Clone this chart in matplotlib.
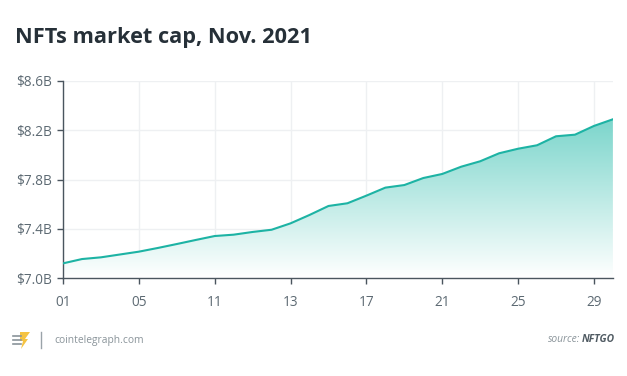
import matplotlib.pyplot as plt
import numpy as np
from matplotlib.patches import Polygon
from matplotlib.colors import LinearSegmentedColormap

# NFT market cap, Nov. 2021 (in $B), one value per day
days = np.arange(30)
cap = [7.119, 7.154, 7.168, 7.191, 7.214, 7.244, 7.276, 7.309, 7.341, 7.352,
       7.374, 7.392, 7.444, 7.512, 7.585, 7.607, 7.669, 7.734, 7.755, 7.812,
       7.845, 7.904, 7.948, 8.013, 8.050, 8.078, 8.151, 8.164, 8.235, 8.289]
tick_pos = [0, 4, 8, 12, 16, 20, 24, 28]
tick_labels = ['01', '05', '11', '13', '17', '21', '25', '29']
y_ticks = [7.0, 7.4, 7.8, 8.2, 8.6]
y_labels = ['$7.0B', '$7.4B', '$7.8B', '$8.2B', '$8.6B']

plt.rcParams['font.family'] = ['Open Sans', 'DejaVu Sans']

fig = plt.figure(figsize=(6.27, 3.76), dpi=100)
ax = fig.add_axes([0.1005, 0.2606, 0.877, 0.524])

line_col = '#1db3a4'
ax.set_xlim(0, 29)
ax.set_ylim(7.0, 8.6)

# gradient fill under the line
grad = np.linspace(0, 1, 256).reshape(-1, 1)
cmap = LinearSegmentedColormap.from_list('g', ['#ffffff', '#7ad5cb'])
im = ax.imshow(grad, aspect='auto', cmap=cmap, origin='lower',
               extent=[0, 29, 7.0, 8.3], zorder=1, vmin=0, vmax=1)
poly = Polygon(np.column_stack([np.r_[days[0], days, days[-1]],
                                np.r_[7.0, cap, 7.0]]),
               closed=True, transform=ax.transData, facecolor='none', edgecolor='none')
ax.add_patch(poly)
im.set_clip_path(poly)
ax.plot(days, cap, color=line_col, lw=1.5, zorder=3)

ax.set_xticks(tick_pos)
ax.set_xticklabels(tick_labels)
ax.set_yticks(y_ticks)
ax.set_yticklabels(y_labels)
ax.grid(True, color='#eef0f2', lw=1, zorder=0)
ax.set_axisbelow(True)
for s in ['top', 'right']:
    ax.spines[s].set_visible(False)
for s in ['left', 'bottom']:
    ax.spines[s].set_color('#4a555e')
    ax.spines[s].set_linewidth(1)
ax.tick_params(axis='both', colors='#4a555e', labelcolor='#5d6a73',
               labelsize=9.8, length=4, width=1)
ax.tick_params(axis='x', pad=8)
ax.tick_params(axis='y', pad=4)

fig.text(15 / 627, 1 - 37 / 376, 'NFTs market cap, Nov. 2021', fontsize=15.7,
         fontweight='bold', color='#263038', va='center', ha='left')

# footer: logo, separator, site name, source
fy = 1 - 340 / 376
for k in range(3):
    yy = 1 - (336 + k * 4) / 376
    fig.add_artist(plt.Line2D([13 / 627, 21 / 627], [yy, yy], color='#8a949a',
                              lw=1.2, transform=fig.transFigure))
bolt = np.array([[20, 332], [30, 332], [25, 339], [28, 339], [21, 349], [23, 341], [20, 341]])
fig.add_artist(Polygon(np.column_stack([bolt[:, 0] / 627, 1 - bolt[:, 1] / 376]),
                       closed=True, facecolor='#f5c342', edgecolor='none',
                       transform=fig.transFigure))
fig.add_artist(plt.Line2D([41 / 627, 41 / 627], [1 - 348 / 376, 1 - 332 / 376],
                          color='#9aa3a9', lw=1, transform=fig.transFigure))
fig.text(54 / 627, fy, 'cointelegraph.com', fontsize=7.4,
         color='#8a949a', va='center', ha='left')
t2 = fig.text(615 / 627, fy, 'NFTGO', fontsize=7.4, color='#4f5a62',
              fontweight='bold', style='italic', va='center', ha='right')
fig.canvas.draw()
bb = t2.get_window_extent()
fig.text((bb.x0 - 2) / 627, fy, 'source:', fontsize=7.4, color='#8a949a',
         style='italic', va='center', ha='right')

plt.savefig('out.png', dpi=100)
